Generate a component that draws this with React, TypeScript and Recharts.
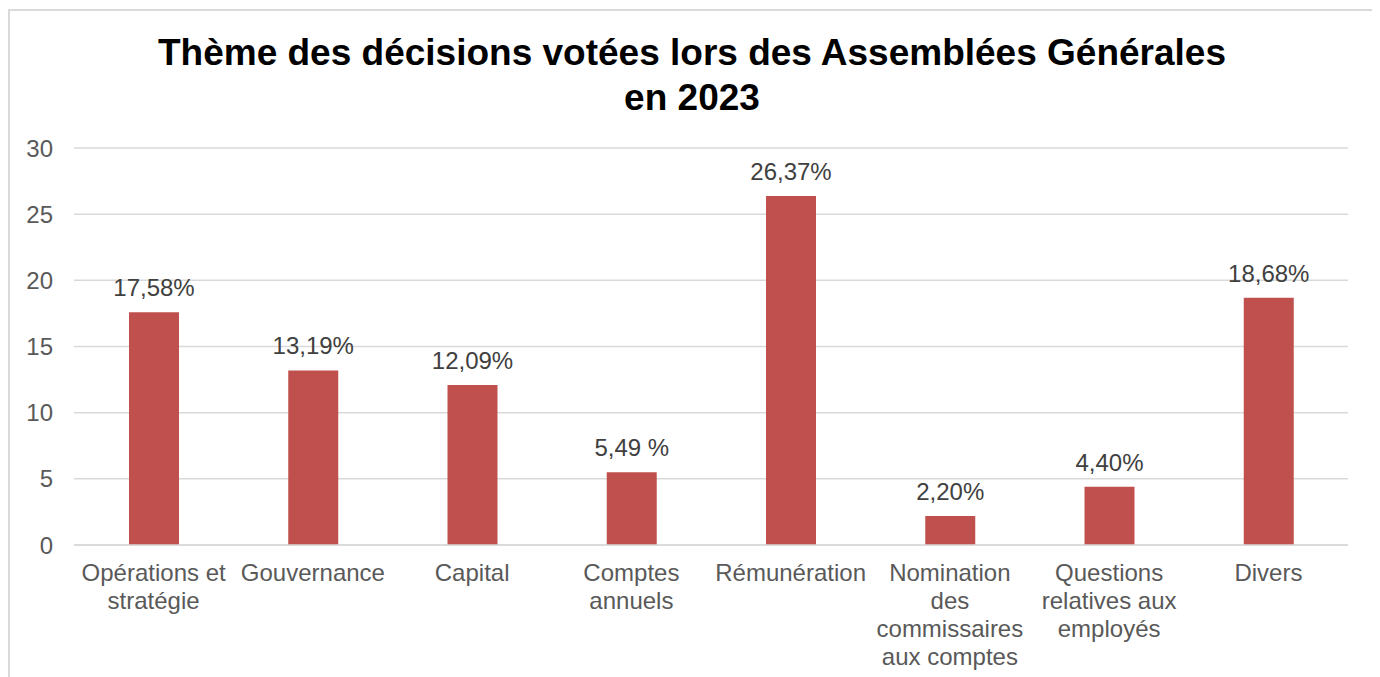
import React from 'react';
import { BarChart, Bar, XAxis, YAxis, CartesianGrid, LabelList } from 'recharts';

const categories = [
  'Opérations et\nstratégie',
  'Gouvernance',
  'Capital',
  'Comptes\nannuels',
  'Rémunération',
  'Nomination\ndes\ncommissaires\naux comptes',
  'Questions\nrelatives aux\nemployés',
  'Divers',
];
const values = [17.58, 13.19, 12.09, 5.49, 26.37, 2.2, 4.4, 18.68];
const valueLabels = ['17,58%', '13,19%', '12,09%', '5,49 %', '26,37%', '2,20%', '4,40%', '18,68%'];
const yTicks = [0, 5, 10, 15, 20, 25, 30];

const data = categories.map((c, i) => ({ name: c, value: values[i], label: valueLabels[i] }));

const FONT = '"Liberation Sans", Arial, sans-serif';

const XTick = (props: any) => {
  const { x, y, payload } = props;
  const lines = String(payload.value).split('\n');
  return (
    <g transform={`translate(${x},${y})`}>
      {lines.map((l: string, i: number) => (
        <text key={i} x={0} y={36 + i * 28} textAnchor="middle" fill="#595959" fontSize={24} fontFamily={FONT}>
          {l}
        </text>
      ))}
    </g>
  );
};

export default function App() {
  return (
    <div
      style={{
        position: 'relative',
        width: 1368,
        height: 700,
        marginTop: 1,
        border: '2px solid #d9d9d9',
        boxSizing: 'border-box',
        background: '#fff',
        fontFamily: FONT,
      }}
    >
      <div
        style={{
          position: 'absolute',
          left: 0,
          right: 0,
          top: 19,
          textAlign: 'center',
          fontWeight: 'bold',
          fontSize: 37,
          lineHeight: '45px',
          color: '#000',
          fontFamily: FONT,
        }}
      >
        Thème des décisions votées lors des Assemblées Générales
        <br />
        en 2023
      </div>
      <BarChart
        width={1364}
        height={690}
        data={data}
        margin={{ top: 137, right: 26, bottom: 16, left: 0 }}
        barCategoryGap="34%"
      >
        <CartesianGrid vertical={false} stroke="#d9d9d9" strokeWidth={1.5} />
        <XAxis
          dataKey="name"
          interval={0}
          tickLine={false}
          tickSize={0}
          tickMargin={0}
          axisLine={{ stroke: '#d9d9d9', strokeWidth: 1.5 }}
          height={140}
          tick={<XTick />}
        />
        <YAxis
          domain={[0, 30]}
          ticks={yTicks}
          width={64}
          axisLine={false}
          tickLine={false}
          tickSize={0}
          tickMargin={21}
          tick={{ fill: '#595959', fontSize: 24, fontFamily: FONT }}
        />
        <Bar dataKey="value" fill="#c0504d" barSize={50} isAnimationActive={false}>
          <LabelList dataKey="label" position="top" offset={16} fill="#404040" fontSize={24} fontFamily={FONT} />
        </Bar>
      </BarChart>
    </div>
  );
}
